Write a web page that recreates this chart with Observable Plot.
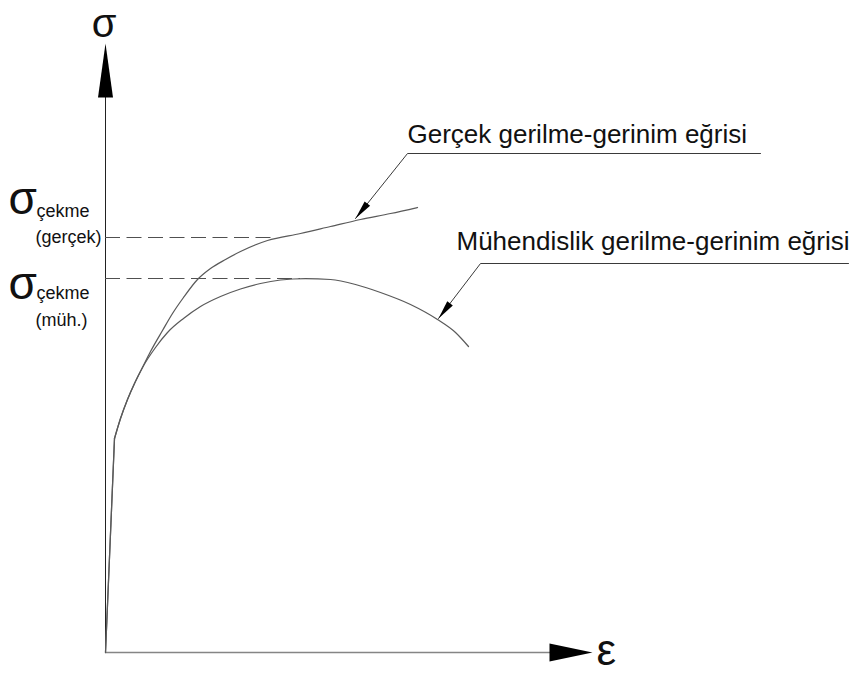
<!DOCTYPE html>
<html>
<head>
<meta charset="utf-8">
<script src="https://cdn.jsdelivr.net/npm/d3@7"></script>
<script src="https://cdn.jsdelivr.net/npm/@observablehq/plot@0.6"></script>
<style>
  body { margin: 0; background: #fff; }
  #chart svg { display: block; }
</style>
</head>
<body>
<div id="chart"></div>
<script>
// True (gerçek) stress–strain curve: strain ε and stress σ
const trueStrain = [0, 0.009, 0.015, 0.022, 0.029, 0.037, 0.045, 0.057, 0.067, 0.078, 0.092, 0.105, 0.120, 0.135, 0.162, 0.195, 0.225, 0.255, 0.285, 0.312];
const trueStress = [0, 214, 234, 253, 269, 285, 301, 322, 339, 355, 373, 384, 393, 401, 412, 419, 426, 433, 439, 445];

// Engineering (mühendislik) stress–strain curve
const engStrain = [0, 0.009, 0.015, 0.022, 0.029, 0.037, 0.050, 0.062, 0.078, 0.095, 0.115, 0.135, 0.155, 0.175, 0.200, 0.225, 0.250, 0.275, 0.305, 0.332, 0.350, 0.363];
const engStress = [0, 214, 234, 253, 269, 285, 305, 320, 334, 346, 356, 363.5, 369, 372.5, 374, 373, 368, 360, 348, 333, 320, 306];

// Tensile strength levels (dashed guides) and where they reach their curve
const tensileNames = ["gerçek", "müh."];
const tensileStress = [415, 374];
const tensileStrain = [0.167, 0.195];

// Callouts: label, arrow tip on the curve, elbow of the leader, end of the underline
const calloutLabels = ["Gerçek gerilme-gerinim eğrisi", "Mühendislik gerilme-gerinim eğrisi"];
const calloutTipStrain = [0.250, 0.333];
const calloutTipStress = [434, 334];
const calloutElbowStrain = [0.302, 0.375];
const calloutElbowStress = [499, 389];
const calloutEndStrain = [0.655, 0.743];

// Axis extents
const axisMaxStrain = 0.487;
const axisMaxStress = 609;

// ---- layout ----
const W = 857, H = 673;
const ML = 105, MR = 265, MT = 43, MB = 21;
const kx = (W - ML - MR) / axisMaxStrain; // px per unit strain
const ky = (H - MT - MB) / axisMaxStress; // px per unit stress
const FONT = "'Liberation Sans', Arial, Helvetica, sans-serif";
const INK = "#111";

const toRows = (xs, ys) => xs.map((e, i) => ({e, s: ys[i]}));
const trueCurve = toRows(trueStrain, trueStress);
const engCurve = toRows(engStrain, engStress);

// filled, elongated triangular arrowhead; tip at the origin pointing up
function arrowHead(len, half) {
  return {
    draw(ctx) {
      ctx.moveTo(0, 0);
      ctx.lineTo(half, len);
      ctx.lineTo(-half, len);
      ctx.closePath();
    }
  };
}
// clockwise rotation (deg) that points the head along a data-space direction
function headingDeg(de, ds) {
  const sx = de * kx, sy = -ds * ky;
  return Math.atan2(sx, -sy) * 180 / Math.PI;
}

const callouts = calloutLabels.map((label, i) => ({
  label,
  tipE: calloutTipStrain[i], tipS: calloutTipStress[i],
  elbowE: calloutElbowStrain[i], elbowS: calloutElbowStress[i],
  endE: calloutEndStrain[i],
  rot: headingDeg(calloutTipStrain[i] - calloutElbowStrain[i], calloutTipStress[i] - calloutElbowStress[i])
}));
const leaderRows = callouts.flatMap((c, i) => [
  {id: i, e: c.endE, s: c.elbowS},
  {id: i, e: c.elbowE, s: c.elbowS},
  {id: i, e: c.tipE, s: c.tipS}
]);

const tensile = tensileNames.map((name, i) => ({name, s: tensileStress[i], e: tensileStrain[i]}));

const curveStyle = {stroke: "#5a5a5a", strokeWidth: 1.25};

const chart = Plot.plot({
  width: W,
  height: H,
  marginLeft: ML,
  marginRight: MR,
  marginTop: MT,
  marginBottom: MB,
  x: {domain: [0, axisMaxStrain], axis: null},
  y: {domain: [0, axisMaxStress], axis: null},
  style: {fontFamily: FONT, background: "#fff"},
  marks: [
    // axes
    Plot.ruleX([0], {y1: 0, y2: axisMaxStress - 30, stroke: "#222", strokeWidth: 1}),
    Plot.ruleY([0], {x1: 0, x2: axisMaxStrain - 0.02, stroke: "#858585", strokeWidth: 1.6}),
    Plot.dot([{e: 0, s: axisMaxStress}], {x: "e", y: "s", symbol: arrowHead(54, 7.5), fill: "#000", stroke: "none", rotate: 0}),
    Plot.dot([{e: axisMaxStrain, s: 0}], {x: "e", y: "s", symbol: arrowHead(43, 9), fill: "#000", stroke: "none", rotate: 90}),

    // tensile strength guides
    Plot.ruleY(tensile, {y: "s", x1: 0, x2: "e", stroke: "#505050", strokeWidth: 1, strokeDasharray: "15,6.5"}),

    // elastic segments (straight) and plastic parts (smooth)
    Plot.line(trueCurve.slice(0, 2), {x: "e", y: "s", ...curveStyle}),
    Plot.line(engCurve.slice(0, 2), {x: "e", y: "s", ...curveStyle}),
    Plot.line(trueCurve.slice(1), {x: "e", y: "s", curve: "monotone-x", ...curveStyle}),
    Plot.line(engCurve.slice(1), {x: "e", y: "s", curve: "monotone-x", ...curveStyle}),

    // callout leaders and heads
    Plot.line(leaderRows, {x: "e", y: "s", z: "id", stroke: "#3a3a3a", strokeWidth: 1}),
    Plot.dot(callouts, {x: "tipE", y: "tipS", rotate: "rot", symbol: arrowHead(19, 3.5), fill: "#000", stroke: "none"}),

    // callout labels
    Plot.text(callouts.slice(0, 1), {x: "elbowE", y: "elbowS", text: "label", textAnchor: "start", lineAnchor: "bottom", dx: 0, dy: -11, fontSize: 26, fill: INK}),
    Plot.text(callouts.slice(1, 2), {x: "elbowE", y: "elbowS", text: "label", textAnchor: "start", lineAnchor: "bottom", dx: -24, dy: -14, fontSize: 26, fill: INK}),

    // axis symbols
    Plot.text([{e: 0, s: axisMaxStress}], {x: "e", y: "s", text: () => "σ", textAnchor: "middle", lineAnchor: "bottom", dx: -1.5, dy: -7, fontSize: 40, fill: INK}),
    Plot.text([{e: axisMaxStrain, s: 0}], {x: "e", y: "s", text: () => "ε", textAnchor: "start", lineAnchor: "bottom", dx: 4, dy: 12, fontSize: 44, fill: INK}),

    // tensile strength labels: σ + "çekme" subscript + qualifier
    Plot.text(tensile.slice(0, 1), {x: 0, y: "s", text: () => "σ", textAnchor: "start", lineAnchor: "bottom", dx: -97, dy: -24, fontSize: 46, fill: INK}),
    Plot.text(tensile.slice(0, 1), {x: 0, y: "s", text: () => "çekme", textAnchor: "start", lineAnchor: "bottom", dx: -69, dy: -21, fontSize: 18, fill: INK}),
    Plot.text(tensile.slice(0, 1), {x: 0, y: "s", text: d => `(${d.name})`, textAnchor: "start", lineAnchor: "bottom", dx: -70, dy: 5, fontSize: 18, fill: INK}),
    Plot.text(tensile.slice(1, 2), {x: 0, y: "s", text: () => "σ", textAnchor: "start", lineAnchor: "bottom", dx: -97, dy: 20, fontSize: 46, fill: INK}),
    Plot.text(tensile.slice(1, 2), {x: 0, y: "s", text: () => "çekme", textAnchor: "start", lineAnchor: "bottom", dx: -69, dy: 20, fontSize: 18, fill: INK}),
    Plot.text(tensile.slice(1, 2), {x: 0, y: "s", text: d => `(${d.name})`, textAnchor: "start", lineAnchor: "bottom", dx: -70, dy: 47, fontSize: 18, fill: INK})
  ]
});

document.getElementById("chart").append(chart);
</script>
</body>
</html>
